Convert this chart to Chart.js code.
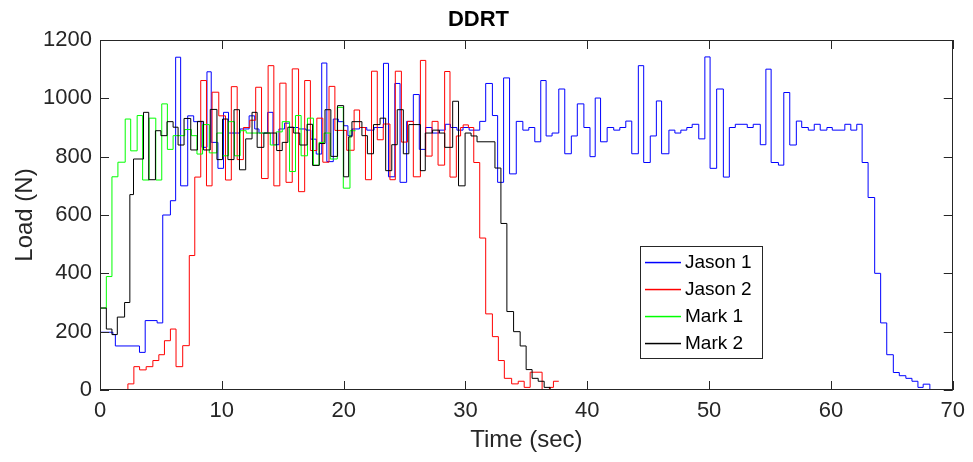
<!DOCTYPE html>
<html>
<head>
<meta charset="utf-8">
<title>DDRT</title>
<script src="https://cdn.jsdelivr.net/npm/chart.js@4.4.1/dist/chart.umd.min.js"></script>
<style>
  html, body { margin: 0; padding: 0; background: #fff; }
  #wrap { width: 973px; height: 462px; }
</style>
</head>
<body>
<div id="wrap"><canvas id="ddrtChart" width="973" height="462"></canvas></div>
<script>
// axis ticks
const xTicks = [0, 10, 20, 30, 40, 50, 60, 70];
const yTicks = [0, 200, 400, 600, 800, 1000, 1200];

const seriesNames = ['Jason 1', 'Jason 2', 'Mark 1', 'Mark 2'];
const seriesColors = ['#0000ff', '#ff0000', '#00ff00', '#000000'];

// [time (sec), load (N)] - value held until the next time
const jason1 = [
  [0, 198], [1.06, 190], [1.26, 151], [3.24, 129], [3.71, 238], [4.69, 230], [5.15, 600], [5.78, 649],
  [6.21, 1141], [6.62, 700], [7.2, 940], [7.69, 920], [8.37, 832], [8.78, 1091], [9.13, 849], [9.68, 760],
  [10.14, 952], [10.55, 881], [11.5, 895], [12.24, 940], [12.7, 895], [13.05, 881], [13.76, 952], [14.2, 841],
  [14.69, 895], [15.15, 915], [15.56, 900], [16.3, 895], [16.9, 891], [17.3, 860], [17.75, 809], [18.2, 1121],
  [18.62, 783], [19.15, 929], [19.56, 920], [20.0, 906], [20.35, 872], [20.7, 895], [21.3, 900], [21.9, 891],
  [22.5, 900], [23.27, 1120], [23.68, 731], [24.2, 1051], [24.63, 712], [25.17, 921], [25.72, 1013], [26.21, 825],
  [26.72, 900], [27.25, 881], [27.85, 891], [28.34, 911], [28.77, 900], [29.3, 891], [29.8, 900], [30.3, 891],
  [31.17, 921], [31.66, 1051], [32.21, 941], [32.64, 712], [33.13, 1070], [33.62, 741], [34.17, 921], [34.71, 891],
  [35.2, 900], [35.69, 851], [36.18, 1061], [36.62, 871], [37.11, 881], [37.66, 1032], [38.15, 810], [38.69, 871],
  [39.18, 981], [39.72, 900], [40.22, 800], [40.65, 1001], [41.09, 851], [41.63, 900], [42.17, 891], [42.67, 900],
  [43.16, 922], [43.65, 810], [44.19, 1112], [44.63, 780], [45.17, 871], [45.67, 991], [46.1, 810], [46.7, 891],
  [47.19, 881], [47.68, 891], [48.17, 900], [48.61, 911], [49.15, 861], [49.65, 1142], [50.08, 760], [50.62, 1032],
  [51.17, 730], [51.66, 900], [52.15, 911], [53.13, 900], [53.62, 911], [54.2, 841], [54.66, 1100], [55.09, 780],
  [55.69, 771], [56.13, 1020], [56.62, 840], [57.16, 922], [57.6, 900], [58.14, 891], [58.63, 911], [59.12, 891],
  [59.67, 900], [60.11, 891], [61.14, 911], [61.63, 891], [62.12, 911], [62.56, 780], [63.05, 660], [63.59, 400],
  [64.08, 230], [64.58, 121], [65.12, 60], [65.61, 49], [66.15, 40], [66.65, 30], [67.14, 9], [67.57, 20],
  [68.12, 0], [70, 0]
];

const jason2 = [
  [0, 0], [2.29, 21], [2.78, 80], [3.25, 69], [3.79, 80], [4.34, 101], [4.83, 121], [5.29, 169],
  [5.78, 209], [6.24, 80], [6.79, 152], [7.33, 461], [7.78, 730], [8.27, 1061], [8.74, 700], [9.2, 1021],
  [9.75, 940], [10.3, 720], [10.78, 1040], [11.26, 790], [11.77, 900], [12.3, 925], [12.78, 1038], [13.26, 725],
  [13.8, 1112], [14.27, 700], [14.76, 1052], [15.27, 712], [15.78, 1101], [16.3, 680], [16.8, 1061], [17.27, 821],
  [17.8, 932], [18.29, 781], [18.8, 1041], [19.28, 890], [20.25, 822], [20.86, 960], [21.31, 900], [21.79, 721],
  [22.29, 1093], [22.76, 858], [23.25, 912], [23.8, 721], [24.24, 1093], [24.74, 850], [25.24, 921], [25.72, 731],
  [26.3, 1130], [26.74, 802], [27.26, 921], [27.75, 771], [28.29, 1092], [28.73, 730], [29.25, 871], [29.6, 900],
  [29.81, 909], [30.24, 900], [30.68, 780], [31.17, 521], [31.66, 261], [32.21, 183], [32.7, 101], [33.19, 40],
  [33.79, 21], [34.33, 30], [34.82, 9], [35.31, 61], [36.29, 0], [36.89, 9], [37.22, 30], [37.66, 30]
];

const mark1 = [
  [0, 281], [0.52, 389], [0.98, 731], [1.47, 781], [2.07, 929], [2.52, 820], [3.05, 941], [3.5, 720],
  [4.03, 932], [4.58, 720], [5.07, 981], [5.53, 825], [6.0, 872], [6.95, 893], [7.5, 872], [7.96, 809],
  [8.42, 910], [8.97, 813], [9.59, 881], [10.06, 803], [10.55, 920], [11.04, 803], [11.5, 889], [12.0, 881],
  [13.98, 840], [14.47, 885], [14.96, 920], [15.56, 749], [16.05, 941], [16.51, 803], [17.03, 932], [17.52, 771],
  [17.98, 849], [18.4, 881], [18.9, 792], [19.48, 969], [19.97, 692], [20.52, 889], [20.98, 889]
];

const mark2 = [
  [0, 281], [0.52, 209], [0.98, 190], [1.42, 250], [2.02, 300], [2.45, 670], [2.75, 792], [3.57, 952],
  [4.0, 721], [4.55, 889], [5.0, 872], [5.5, 920], [6.0, 901], [6.41, 840], [6.9, 931], [7.45, 823],
  [8.0, 921], [8.5, 823], [9.05, 962], [9.6, 790], [10.06, 929], [10.5, 790], [11.0, 961], [11.45, 755],
  [11.96, 861], [12.48, 952], [12.9, 832], [13.45, 881], [14.5, 821], [14.96, 849], [15.42, 901], [15.9, 881],
  [16.4, 840], [17.0, 911], [17.45, 770], [18.0, 845], [18.47, 961], [18.95, 801], [19.5, 975], [20.0, 731],
  [20.41, 868], [20.68, 920], [21.5, 872], [21.95, 810], [22.45, 910], [22.99, 932], [23.45, 752], [23.95, 841],
  [24.4, 961], [24.9, 810], [25.35, 910], [26.3, 752], [26.7, 881], [27.3, 891], [27.85, 881], [28.3, 832],
  [28.95, 990], [29.43, 700], [29.97, 881], [30.46, 871], [30.95, 851], [32.42, 761], [32.91, 571], [33.4, 269],
  [33.95, 200], [34.49, 151], [34.98, 70], [35.47, 40], [35.97, 30], [36.46, 9], [36.95, 0], [38.53, 0]
];

const FONT = 'Arial, "Liberation Sans", Helvetica, sans-serif';
const axisColor = '#262626';

const toPoints = rows => rows.map(([t, load]) => ({ x: t, y: load }));

// matlab style box with inward ticks on all four sides, plus the legend
const boxAndLegend = {
  id: 'boxAndLegend',
  afterDraw(chart) {
    const { ctx, chartArea: a, scales: { x, y } } = chart;
    const tick = 9;
    ctx.save();
    ctx.strokeStyle = axisColor;
    ctx.lineWidth = 1;
    ctx.strokeRect(Math.round(a.left) + 0.5, Math.round(a.top) + 0.5,
      Math.round(a.right - a.left) - 1, Math.round(a.bottom - a.top) - 1);
    ctx.beginPath();
    x.ticks.forEach(t => {
      const px = Math.round(x.getPixelForValue(t.value)) + 0.5;
      ctx.moveTo(px, a.bottom); ctx.lineTo(px, a.bottom - tick);
      ctx.moveTo(px, a.top); ctx.lineTo(px, a.top + tick);
    });
    y.ticks.forEach(t => {
      const py = Math.round(y.getPixelForValue(t.value)) + 0.5;
      ctx.moveTo(a.left, py); ctx.lineTo(a.left + tick, py);
      ctx.moveTo(a.right, py); ctx.lineTo(a.right - tick, py);
    });
    ctx.stroke();

    // legend, entries taken from the datasets
    const lx = Math.round(a.left) + 540, ly = Math.round(a.top) + 206;
    const lw = 122, lh = 112;
    ctx.fillStyle = '#fff';
    ctx.fillRect(lx, ly, lw, lh);
    ctx.strokeStyle = axisColor;
    ctx.strokeRect(lx + 0.5, ly + 0.5, lw, lh);
    ctx.font = '19px ' + FONT;
    ctx.textBaseline = 'middle';
    ctx.textAlign = 'left';
    chart.data.datasets.forEach((ds, i) => {
      const cy = ly + 16 + i * 27;
      ctx.fillStyle = ds.borderColor;
      ctx.fillRect(lx + 5, cy - 0.2, 36, 1.5);
      ctx.fillStyle = '#000';
      ctx.fillText(ds.label, lx + 45, cy + 1);
    });
    ctx.restore();
  }
};

new Chart(document.getElementById('ddrtChart'), {
  type: 'line',
  data: {
    datasets: [jason1, jason2, mark1, mark2].map((rows, i) => ({
      label: seriesNames[i],
      data: toPoints(rows),
      borderColor: seriesColors[i],
      backgroundColor: seriesColors[i],
      borderWidth: 1,
      pointRadius: 0,
      stepped: true,
      fill: false,
      order: 3 - i
    }))
  },
  options: {
    responsive: false,
    animation: false,
    devicePixelRatio: 1,
    layout: { padding: { left: 0, right: 16, top: 0, bottom: 0 } },
    plugins: {
      legend: { display: false },
      tooltip: { enabled: false },
      title: {
        display: true,
        text: 'DDRT',
        color: '#000',
        font: { family: FONT, size: 22, weight: 'bold', lineHeight: 1.2 },
        padding: { top: 7, bottom: 6.6 }
      }
    },
    scales: {
      x: {
        type: 'linear',
        min: 0,
        max: 70,
        afterBuildTicks: s => { s.ticks = xTicks.map(v => ({ value: v })); },
        afterFit: s => { s.height = 72; },
        grid: { display: false, drawTicks: false },
        border: { display: false },
        ticks: { color: axisColor, font: { family: FONT, size: 22 }, padding: 8, maxRotation: 0, autoSkip: false,
          callback: v => String(v) },
        title: { display: true, text: 'Time (sec)', color: axisColor,
          font: { family: FONT, size: 24, lineHeight: 1.2 }, padding: { top: 0, bottom: 7.6 } }
      },
      y: {
        type: 'linear',
        min: 0,
        max: 1200,
        afterBuildTicks: s => { s.ticks = yTicks.map(v => ({ value: v })); },
        afterFit: s => { s.width = 100; },
        grid: { display: false, drawTicks: false },
        border: { display: false },
        ticks: { color: axisColor, font: { family: FONT, size: 22 }, padding: 8, autoSkip: false,
          callback: v => String(v) },
        title: { display: true, text: 'Load (N)', color: axisColor,
          font: { family: FONT, size: 24, lineHeight: 1.2 }, padding: { top: 10.6, bottom: 0 } }
      }
    }
  },
  plugins: [boxAndLegend]
});
</script>
</body>
</html>
